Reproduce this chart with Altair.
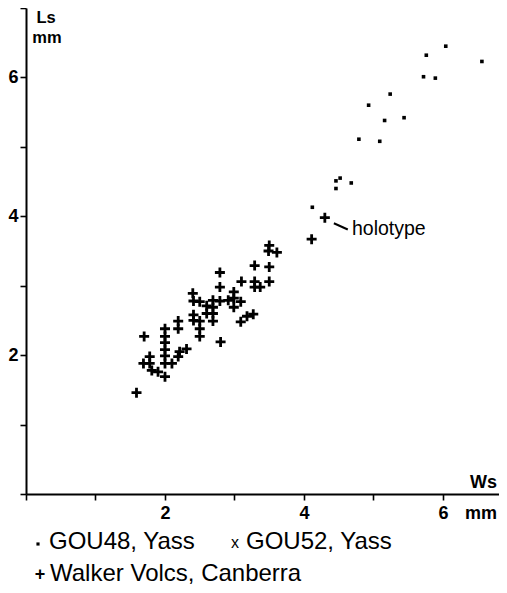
import altair as alt
import pandas as pd

# ---------------- data ----------------
walker_ws = [4.11, 3.50, 3.49, 3.61, 3.29, 3.50, 2.79, 3.10, 3.29, 3.50,
             3.29, 3.37, 2.79, 2.40, 2.99, 2.41, 2.50, 2.69, 2.79, 2.91,
             2.99, 3.09, 2.60, 2.69, 2.99, 2.41, 2.60, 2.69, 3.27, 3.18,
             2.19, 2.41, 2.50, 2.69, 3.09, 2.19, 2.50, 1.70, 2.00, 2.00,
             2.50, 2.80, 2.00, 2.00, 2.31, 2.21, 1.78, 2.00, 2.19, 1.69,
             1.78, 2.00, 2.10, 1.81, 1.90, 2.00, 1.59, 4.30]
walker_ls = [3.67, 3.58, 3.50, 3.48, 3.29, 3.27, 3.19, 3.06, 3.06, 3.06,
             2.98, 2.98, 2.98, 2.89, 2.91, 2.78, 2.77, 2.79, 2.78, 2.79,
             2.82, 2.77, 2.71, 2.69, 2.69, 2.58, 2.60, 2.60, 2.59, 2.56,
             2.49, 2.50, 2.49, 2.49, 2.48, 2.38, 2.38, 2.27, 2.38, 2.27,
             2.27, 2.19, 2.18, 2.08, 2.09, 2.05, 1.98, 1.99, 1.98, 1.88,
             1.88, 1.88, 1.88, 1.78, 1.76, 1.69, 1.46, 3.98]

gou48_ws = [6.04, 5.76, 6.56, 5.72, 5.89, 5.24, 4.93, 5.16, 5.44, 4.79,
            5.09, 4.52, 4.46, 4.46, 4.68, 4.12]
gou48_ls = [6.45, 6.32, 6.23, 6.01, 5.99, 5.76, 5.60, 5.38, 5.42, 5.11,
            5.08, 4.55, 4.51, 4.40, 4.48, 4.13]

gou52_ws = []
gou52_ls = []

holotype_ws = [4.30]
holotype_ls = [3.98]
holotype_label = ["holotype"]

x_ticks = [0, 1, 2, 3, 4, 5, 6]
y_ticks = [0, 1, 2, 3, 4, 5, 6, 7]
legend_labels = ["GOU48, Yass", "GOU52, Yass", "Walker Volcs, Canberra"]

# ---------------- styling ----------------
FONT = "Liberation Sans"
W, H = 473, 486
xs = alt.Scale(domain=[0, 6.806], nice=False, zero=False)
ys = alt.Scale(domain=[0, 7], nice=False, zero=False)
lab_expr = "(datum.value == 2 || datum.value == 4 || datum.value == 6) ? datum.label : ''"

x_axis = alt.Axis(values=x_ticks, format="d", labelExpr=lab_expr, title=None,
                  grid=False, domainColor="black", domainWidth=2,
                  tickColor="black", tickWidth=1.6, tickSize=6,
                  labelFont=FONT, labelFontSize=18, labelFontWeight="bold",
                  labelColor="black", labelPadding=4)
y_axis = alt.Axis(values=y_ticks, format="d", labelExpr=lab_expr, title=None,
                  grid=False, domainColor="black", domainWidth=2,
                  tickColor="black", tickWidth=1.6, tickSize=6,
                  labelFont=FONT, labelFontSize=18, labelFontWeight="bold",
                  labelColor="black", labelPadding=2)

walker_df = pd.DataFrame({"Ws": walker_ws, "Ls": walker_ls})
gou48_df = pd.DataFrame({"Ws": gou48_ws, "Ls": gou48_ls})

PLUS = "M-1,0H1M0,-1V1"

walker = alt.Chart(walker_df).mark_point(
    shape=PLUS, size=100, filled=False, stroke="black", strokeWidth=2.8,
    opacity=1, strokeCap="butt"
).encode(
    x=alt.X("Ws:Q", scale=xs, axis=x_axis),
    y=alt.Y("Ls:Q", scale=ys, axis=y_axis),
)

gou48 = alt.Chart(gou48_df).mark_point(
    shape="square", size=13, filled=True, color="black", opacity=1
).encode(
    x=alt.X("Ws:Q", scale=xs),
    y=alt.Y("Ls:Q", scale=ys),
)

layers = [walker, gou48]

if gou52_ws:
    gou52_df = pd.DataFrame({"Ws": gou52_ws, "Ls": gou52_ls})
    layers.append(alt.Chart(gou52_df).mark_text(
        text="x", font=FONT, fontSize=12, color="black"
    ).encode(x=alt.X("Ws:Q", scale=xs), y=alt.Y("Ls:Q", scale=ys)))

# holotype leader line and label (positioned relative to the holotype point)
holo_df = pd.DataFrame({
    "x1": [holotype_ws[0] + 0.13], "y1": [holotype_ls[0] - 0.08],
    "x2": [holotype_ws[0] + 0.33], "y2": [holotype_ls[0] - 0.17],
    "tx": [holotype_ws[0] + 0.39], "ty": [holotype_ls[0] - 0.25],
    "label": holotype_label,
})
leader = alt.Chart(holo_df).mark_rule(color="black", strokeWidth=2).encode(
    x=alt.X("x1:Q", scale=xs), y=alt.Y("y1:Q", scale=ys),
    x2="x2:Q", y2="y2:Q",
)
holo_text = alt.Chart(holo_df).mark_text(
    align="left", baseline="alphabetic", font=FONT, fontSize=19.5, color="black"
).encode(
    x=alt.X("tx:Q", scale=xs), y=alt.Y("ty:Q", scale=ys), text="label:N"
)
layers += [leader, holo_text]

one = pd.DataFrame({"a": [0]})


def label(txt, px, py, size, weight="normal", align="left"):
    return alt.Chart(one).mark_text(
        text=txt, font=FONT, fontSize=size, fontWeight=weight, align=align,
        baseline="alphabetic", color="black"
    ).encode(x=alt.value(px), y=alt.value(py))


# axis titles
layers += [
    label("Ls", 20, 15, 16.5, "bold", "center"),
    label("mm", 21, 35, 16.5, "bold", "center"),
    label("Ws", 471, 480, 18, "bold", "right"),
    label("mm", 471, 511, 18, "bold", "right"),
]

# legend
legend_dot = alt.Chart(one).mark_point(
    shape="square", size=10, filled=True, color="black", opacity=1
).encode(x=alt.value(12), y=alt.value(536))
layers += [
    legend_dot,
    label(legend_labels[0], 23, 541, 24),
    label("x", 205, 540, 16),
    label(legend_labels[1], 220, 541, 24),
    label("+", 14, 572, 18, "bold", "center"),
    label(legend_labels[2], 24, 573, 24),
]

chart = alt.layer(*layers).properties(
    width=W, height=H,
    autosize=alt.AutoSizeParams(type="none"),
    padding={"left": 18, "top": 0, "right": 0, "bottom": 91},
    background="white",
).configure_view(strokeWidth=0)

chart.save("out.html", embed_options={"renderer": "svg", "actions": False})
